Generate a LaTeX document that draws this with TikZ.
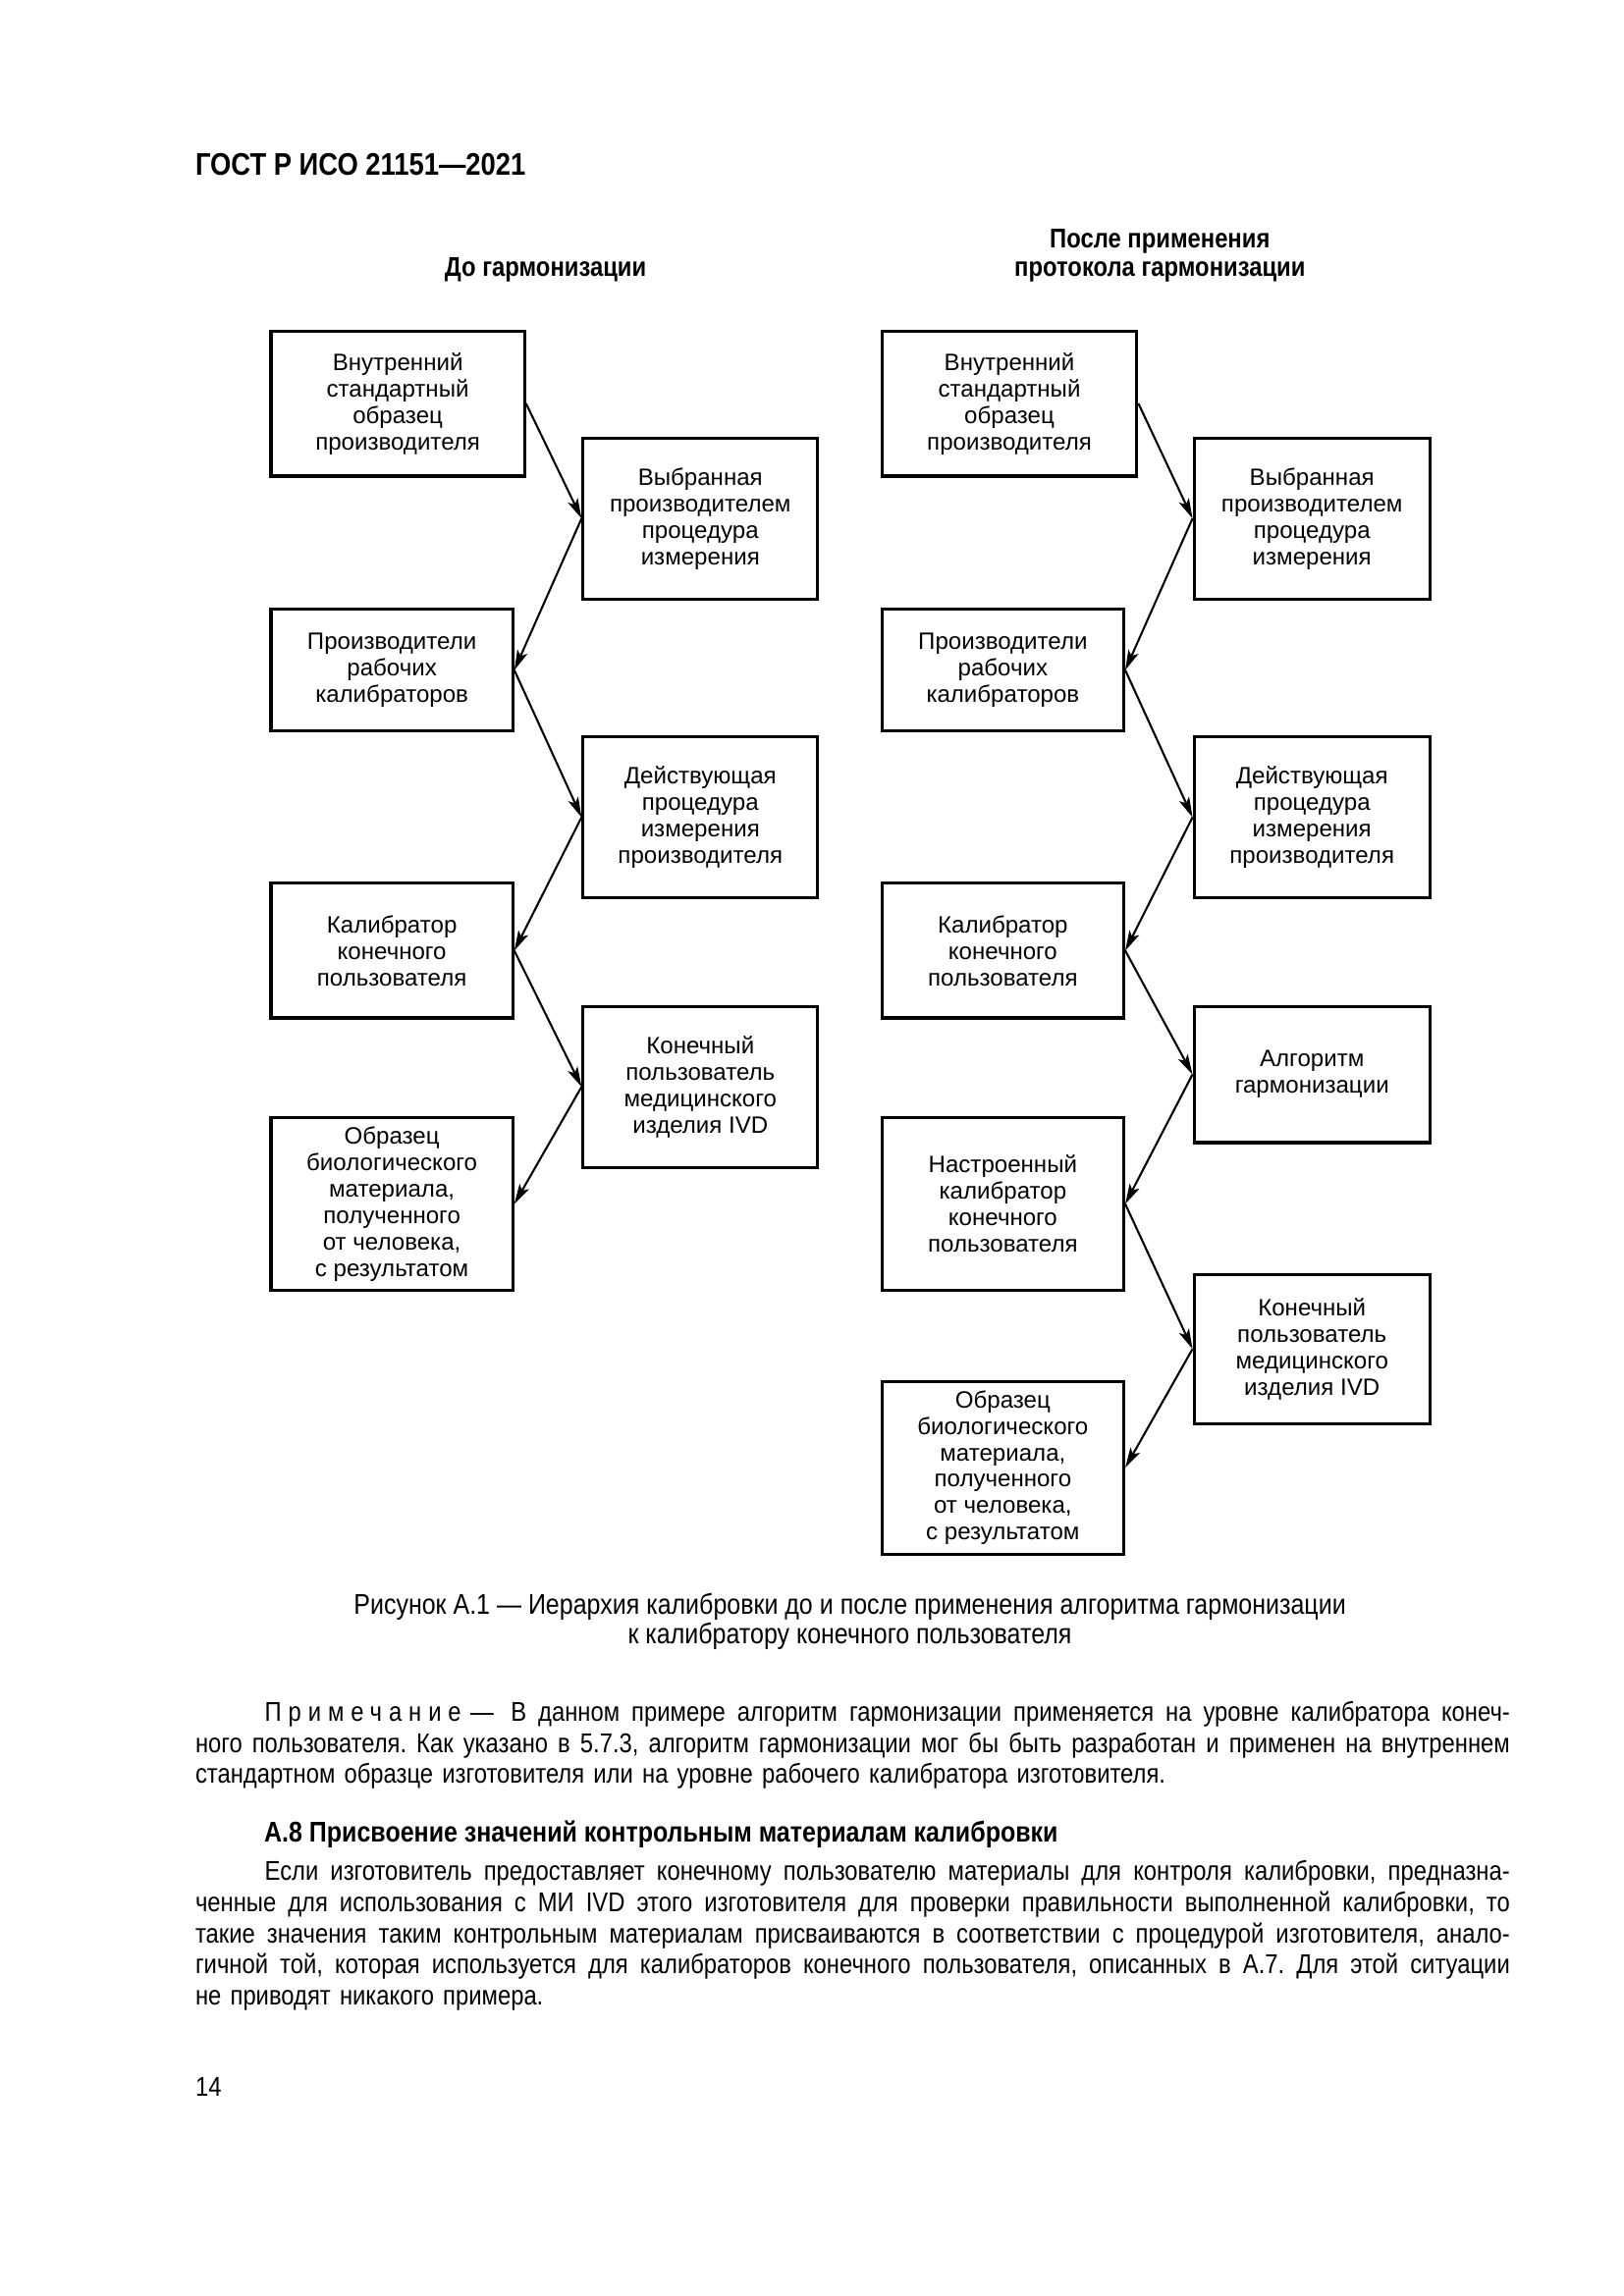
\documentclass[tikz,border=0pt]{standalone}
\usepackage{fontspec}
\setmainfont{Liberation Sans}
\newfontfamily\narrowsans{Liberation Sans}[FakeStretch=0.86]
\usetikzlibrary{arrows.meta}

\newlength\parwidth
\setlength\parwidth{17.0cm}
\newcommand\fullline[1]{\hbox to\parwidth{\frenchspacing\spaceskip=.24em plus .6em minus .04em\strut#1}}
\newcommand\lastline[1]{\hbox to\parwidth{\frenchspacing\strut#1\hfil}}

\tikzset{
  box/.style={draw, line width=1.15pt, align=center, inner sep=0pt,
    font=\fontsize{8.7}{9.75}\selectfont},
  link/.style={-{Stealth[length=2.6mm,width=1.4mm,inset=0.6mm]}, line width=0.75pt},
  title/.style={font=\narrowsans\bfseries\fontsize{10}{10.4}\selectfont, align=center, inner sep=0pt},
  body/.style={font=\narrowsans\fontsize{10}{11.4}\selectfont, inner sep=0pt},
  para/.style={body, text width=17.0cm, anchor=north west},
}

\begin{document}
\begin{tikzpicture}
\fill[white] (0,0) rectangle (21,-29.7);
\useasboundingbox (0,0) rectangle (21,-29.7);

\node[anchor=base west, inner sep=0pt, font=\narrowsans\bfseries\fontsize{11.5}{13}\selectfont] (gost) at (2.52,-2.272) {ГОСТ Р ИСО 21151—2021};

% column titles
\node[title, anchor=base] (before) at (7.054,-3.570) {До гармонизации};
\node[title, anchor=base] (after) at (15.0,-3.570) {После применения\\протокола гармонизации};

% before harmonization
\node[box, minimum width=3.278cm, minimum height=1.876cm] (b1) at (5.144,-5.220) {Внутренний\\стандартный\\образец\\производителя};
\node[box, minimum width=3.032cm, minimum height=2.084cm] (b2) at (9.057,-6.707) {Выбранная\\производителем\\процедура\\измерения};
\node[box, minimum width=3.126cm, minimum height=1.573cm] (b3) at (5.068,-8.668) {Производители\\рабочих\\калибраторов};
\node[box, minimum width=3.032cm, minimum height=2.084cm] (b4) at (9.057,-10.572) {Действующая\\процедура\\измерения\\производителя};
\node[box, minimum width=3.126cm, minimum height=1.743cm] (b5) at (5.068,-12.297) {Калибратор\\конечного\\пользователя};
\node[box, minimum width=3.032cm, minimum height=2.084cm] (b6) at (9.057,-14.059) {Конечный\\пользователь\\медицинского\\изделия IVD};
\node[box, minimum width=3.126cm, minimum height=2.236cm] (b7) at (5.068,-15.574) {Образец\\биологического\\материала,\\полученного\\от человека,\\с результатом};

\draw[link] (b1.east) -- (b2.west);
\draw[link] (b2.west) -- (b3.east);
\draw[link] (b3.east) -- (b4.west);
\draw[link] (b4.west) -- (b5.east);
\draw[link] (b5.east) -- (b6.west);
\draw[link] (b6.west) -- (b7.east);

% after harmonization protocol
\node[box, minimum width=3.297cm, minimum height=1.876cm] (r1) at (13.054,-5.220) {Внутренний\\стандартный\\образец\\производителя};
\node[box, minimum width=3.050cm, minimum height=2.084cm] (r2) at (16.967,-6.707) {Выбранная\\производителем\\процедура\\измерения};
\node[box, minimum width=3.126cm, minimum height=1.573cm] (r3) at (12.969,-8.668) {Производители\\рабочих\\калибраторов};
\node[box, minimum width=3.050cm, minimum height=2.084cm] (r4) at (16.967,-10.572) {Действующая\\процедура\\измерения\\производителя};
\node[box, minimum width=3.126cm, minimum height=1.743cm] (r5) at (12.969,-12.297) {Калибратор\\конечного\\пользователя};
\node[box, minimum width=3.050cm, minimum height=1.762cm] (r6) at (16.967,-13.898) {Алгоритм\\гармонизации};
\node[box, minimum width=3.126cm, minimum height=2.236cm] (r7) at (12.969,-15.574) {Настроенный\\калибратор\\конечного\\пользователя};
\node[box, minimum width=3.050cm, minimum height=1.933cm] (r8) at (16.967,-17.450) {Конечный\\пользователь\\медицинского\\изделия IVD};
\node[box, minimum width=3.126cm, minimum height=2.236cm] (r9) at (12.969,-18.985) {Образец\\биологического\\материала,\\полученного\\от человека,\\с результатом};

\draw[link] (r1.east) -- (r2.west);
\draw[link] (r2.west) -- (r3.east);
\draw[link] (r3.east) -- (r4.west);
\draw[link] (r4.west) -- (r5.east);
\draw[link] (r5.east) -- (r6.west);
\draw[link] (r6.west) -- (r7.east);
\draw[link] (r7.east) -- (r8.west);
\draw[link] (r8.west) -- (r9.east);

% caption and page text
\node[body, align=center, anchor=base, font=\narrowsans\fontsize{10.5}{10.8}\selectfont] (caption) at (10.99,-21.26) {Рисунок А.1 — Иерархия калибровки до и после применения алгоритма гармонизации\\к калибратору конечного пользователя};

\node[para] (note) at (2.52,-21.98) {%
\fullline{\hspace*{0.897cm}{\addfontfeature{LetterSpace=25}Примечание}\hspace{0.12cm}—\hspace{0.22cm}В данном примере алгоритм гармонизации применяется на уровне калибратора конеч-}
\fullline{ного пользователя. Как указано в 5.7.3, алгоритм гармонизации мог бы быть разработан и применен на внутреннем}
\lastline{стандартном образце изготовителя или на уровне рабочего калибратора изготовителя.}};

\node[body, anchor=base west, font=\narrowsans\bfseries\fontsize{10.5}{11.4}\selectfont] (a8) at (3.41,-23.83) {А.8 Присвоение значений контрольным материалам калибровки};

\node[para] (text) at (2.52,-24.04) {%
\fullline{\hspace*{0.897cm}Если изготовитель предоставляет конечному пользователю материалы для контроля калибровки, предназна-}
\fullline{ченные для использования с МИ IVD этого изготовителя для проверки правильности выполненной калибровки, то}
\fullline{такие значения таким контрольным материалам присваиваются в соответствии с процедурой изготовителя, анало-}
\fullline{гичной той, которая используется для калибраторов конечного пользователя, описанных в А.7. Для этой ситуации}
\lastline{не приводят никакого примера.}};

\node[body, anchor=base west] (page) at (2.52,-27.11) {14};
\end{tikzpicture}
\end{document}
